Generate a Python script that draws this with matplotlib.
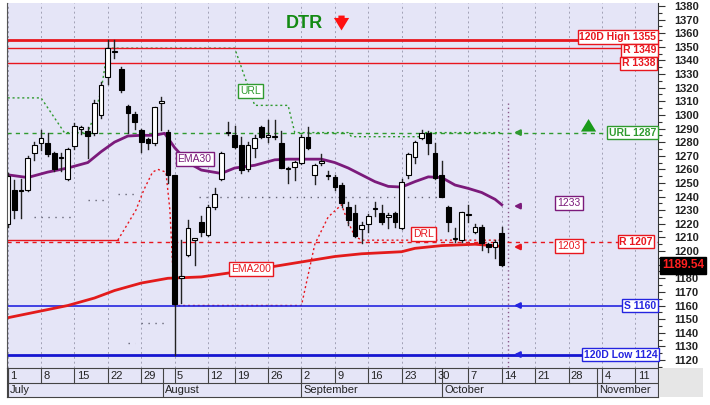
import numpy as np
import matplotlib
matplotlib.use("Agg")
import matplotlib.pyplot as plt
import matplotlib.transforms as mtransforms
from matplotlib.patches import Rectangle

plt.rcParams['font.family'] = ['Liberation Sans', 'DejaVu Sans']

# ---- daily candles, one per trading day starting 1 July ----
opens = [1220, 1245, 1244, 1245, 1272, 1279, 1279, 1272, 1268, 1253,
         1277, 1290, 1288, 1287, 1300, 1328, 1346, 1334, 1306.5, 1301,
         1289, 1282, 1279, 1309, 1287.5, 1256, 1180, 1197, 1208, 1221,
         1212, 1232, 1253, 1287, 1285, 1278, 1260, 1276, 1291, 1284,
         1284, 1279, 1260, 1262, 1265, 1284, 1256, 1265, 1255, 1254.5,
         1248.5, 1232.5, 1228, 1216, 1220, 1231, 1228, 1225, 1228, 1217,
         1256, 1269, 1283, 1287, 1272, 1256, 1232, 1209, 1208, 1226.5,
         1214, 1218, 1205, 1203, 1213]
highs = [1257, 1252, 1253, 1270, 1280, 1289, 1287, 1273, 1272, 1276,
         1294, 1292, 1291, 1311, 1324, 1355, 1355, 1335, 1307, 1302,
         1290, 1283, 1306, 1313, 1289, 1256, 1208, 1223, 1209, 1226,
         1234, 1246, 1273, 1295, 1292, 1284, 1280, 1285, 1292, 1296,
         1296, 1288, 1262, 1266, 1285, 1291, 1264, 1271, 1259, 1256,
         1250, 1236, 1234, 1221, 1227, 1236, 1234, 1228, 1229, 1253,
         1272, 1281, 1289, 1288, 1279, 1266, 1233, 1217, 1229, 1234,
         1220, 1219, 1206, 1208, 1218]
lows = [1218, 1224, 1224, 1244, 1267, 1274, 1270, 1259, 1259, 1252,
        1275, 1286, 1268, 1285, 1298, 1323, 1342, 1317, 1287, 1290,
        1273, 1275, 1278, 1289, 1250, 1124, 1162, 1196, 1190, 1211,
        1211, 1231, 1252, 1285, 1276, 1257, 1259, 1269, 1283, 1280,
        1282, 1261, 1250, 1252, 1264, 1275, 1249, 1263, 1253, 1245,
        1232, 1219, 1210, 1206, 1214, 1226, 1220, 1217, 1218, 1216,
        1254, 1265, 1282, 1271, 1253, 1240, 1215, 1207, 1207, 1221,
        1213, 1201, 1199, 1195, 1189]
closes = [1255, 1230, 1244.5, 1268, 1278, 1283, 1271, 1260, 1268.5, 1275,
          1292, 1290.5, 1284.5, 1309, 1322, 1349, 1346.5, 1318, 1301.5, 1295,
          1280, 1279, 1305.5, 1310, 1256, 1161, 1182, 1217, 1209.5, 1214,
          1232, 1242, 1272, 1287.5, 1276.5, 1259.5, 1278, 1283, 1284, 1285,
          1284.5, 1261, 1260.5, 1265.5, 1284, 1276, 1263, 1265.5, 1255.5, 1247,
          1235, 1223, 1211, 1219, 1226, 1231.5, 1221.5, 1226.5, 1221, 1251,
          1271, 1280, 1287, 1279, 1254, 1240, 1221, 1209.5, 1229, 1227,
          1218, 1206, 1203, 1207, 1189.54]

# ---- indicator lines (day index, value) ----
ema30_idx = [0, 3, 6, 9, 12, 14, 16, 18, 20, 22, 23.5, 25, 27, 29, 32, 34, 37,
             40, 42, 47, 49, 51, 53, 55, 57, 59, 61, 63, 65, 67, 69, 71, 73, 74]
ema30_val = [1256, 1254, 1258, 1261, 1265, 1273, 1280, 1284.5, 1285, 1285,
             1286.5, 1276, 1265, 1259.5, 1257, 1261, 1263, 1267, 1267.5, 1267.5,
             1265, 1261, 1256, 1251, 1247.5, 1247, 1251, 1254.5, 1254, 1248.5,
             1246, 1243, 1238, 1234]
ema200_idx = [0, 4, 9, 13, 16, 20, 24, 29, 34, 39, 44, 49, 53, 59, 61, 65, 70, 74]
ema200_val = [1151, 1155, 1160, 1165.5, 1171, 1176.5, 1180, 1181, 1184.5,
              1188, 1192, 1196, 1198, 1199.5, 1202, 1204, 1205, 1203.5]
url_idx = [0, 5, 8.5, 12, 13, 14, 15, 34, 37, 42, 43, 51, 51.5, 62, 62.5, 74]
url_val = [1312.5, 1312.5, 1287, 1287, 1300, 1318, 1349, 1349, 1307, 1307,
           1287, 1287, 1284, 1284, 1287, 1287]
drl_idx = [16.5, 19.2, 20.4, 21.7, 22.5, 23.7, 24.3, 25, 44, 46, 48, 50, 51,
           52, 53, 74]
drl_val = [1208, 1230, 1245, 1258, 1260, 1258, 1230, 1160, 1160, 1205, 1225,
           1234, 1221, 1211, 1208, 1208]
# short grey dotted step levels
band_start = [4, 12, 16.5, 18, 20, 28.6]
band_end = [10, 14.5, 19.5, 19, 24, 65]
band_val = [1225, 1237.5, 1242, 1132.5, 1147, 1240]

# ---- horizontal levels ----
level_val = [1355, 1349, 1338, 1287, 1207, 1160, 1124]
level_text = ['120D High 1355', 'R 1349', 'R 1338', 'URL 1287', 'R 1207',
              'S 1160', '120D Low 1124']
end_val = [1287, 1233, 1203, 1160, 1124]   # arrows at the end marker
last_close = 1189.54

# ---- date axis ----
week_pos = [0, 5, 10, 15, 20, 25, 30, 34, 39, 44, 49, 54, 59, 64, 69, 74,
            79, 84, 89, 94]
week_labels = ['1', '8', '15', '22', '29', '5', '12', '19', '26', '2', '9',
               '16', '23', '30', '7', '14', '21', '28', '4', '11']
month_pos = [0, 23.2, 44, 65.1, 88.3]
month_names = ['July', 'August', 'September', 'October', 'November']

RED = '#e8161e'
GREEN = '#2f9a2f'
BLUE = '#2424e0'
PURPLE = '#7b1a7b'
BG = '#e5e5f7'

fig = plt.figure(figsize=(7.1, 4.05), dpi=100)
fig.patch.set_facecolor('white')
ax = fig.add_axes([7 / 710, 1 - 368 / 405, 651 / 710, 365 / 405])
ax.set_facecolor(BG)
ax.set_xlim(-0.1, 97.4)
ax.set_ylim(1114.1, 1382.2)

# vertical week grid
for p in week_pos:
    ax.axvline(p, color='#a0a0b4', lw=0.7, ls=(0, (2, 3)), zorder=0.5)

# grey dotted steps
for s, e, v in zip(band_start, band_end, band_val):
    ax.plot([s, e], [v, v], color='#666677', lw=1, ls=(0, (1, 4)), zorder=1)

ax.plot(url_idx, url_val, color=GREEN, lw=1, ls=(0, (1.5, 2)), zorder=1.1)
ax.plot(drl_idx, drl_val, color=RED, lw=1, ls=(0, (1.5, 2)), zorder=1.1)

# levels
ax.axhline(level_val[0], color=RED, lw=2, zorder=1.3)
ax.axhline(level_val[1], color=RED, lw=1, zorder=1.3)
ax.axhline(level_val[2], color=RED, lw=1, zorder=1.3)
ax.axhline(level_val[3], color=GREEN, lw=1, ls=(0, (3, 3)), zorder=1.3)
ax.axhline(level_val[4], color=RED, lw=1, ls=(0, (3, 3)), zorder=1.3)
ax.axhline(level_val[5], color=BLUE, lw=1.2, zorder=1.3)
ax.axhline(level_val[6], color='#1515d0', lw=2, zorder=1.3)
ax.plot([ax.get_xlim()[0], drl_idx[0]], [drl_val[0]] * 2, color=RED, lw=1, zorder=1.3)

ax.plot(ema200_idx, ema200_val, color='#e31b1b', lw=2, zorder=1.5)
ax.plot(ema30_idx, ema30_val, color=PURPLE, lw=2, zorder=1.5)

# candles
w = 0.7
for i, (o, h, l, c) in enumerate(zip(opens, highs, lows, closes)):
    ax.plot([i, i], [l, h], color='#222222', lw=1, zorder=2)
    lo, hi = min(o, c), max(o, c)
    if hi - lo < 0.8:
        hi = lo + 0.8
    fc = 'white' if c >= o else 'black'
    ax.add_patch(Rectangle((i - w / 2, lo), w, hi - lo, facecolor=fc,
                           edgecolor='black', lw=0.8, zorder=2.2))

# end marker
end_x = len(closes)
ax.plot([end_x, end_x], [1309, ax.get_ylim()[0]], color='#8a5a8a', lw=1,
        ls=(0, (1, 2)), zorder=1.2)
end_cols = [GREEN, PURPLE, RED, BLUE, BLUE]
for v, col in zip(end_val, end_cols):
    ax.annotate('', xy=(end_x + 0.4, v), xytext=(end_x + 2.3, v),
                arrowprops=dict(arrowstyle='-|>', color=col, lw=1.6,
                                mutation_scale=8), zorder=3)

# level labels (boxes nudged so neighbouring tags do not collide)
lab_cols = [RED, RED, RED, GREEN, RED, BLUE, BLUE]
lab_nudge = [2.2, -1.6, 0, 0, 0, 0, 0]
lab_right = [97.1, 97.1, 97.0, 97.1, 96.6, 97.1, 97.3]
for v, t, col, dy, xr in zip(level_val, level_text, lab_cols, lab_nudge, lab_right):
    ax.text(xr, v + dy, t, ha='right', va='center', fontsize=7.5,
            fontweight='bold', color=col, zorder=4,
            bbox=dict(boxstyle='square,pad=0.15', fc='white', ec=col, lw=1))

def tag(x, y, s, col):
    ax.text(x, y, s, ha='center', va='center', fontsize=7.5, color=col,
            zorder=4, bbox=dict(boxstyle='square,pad=0.2', fc='white',
                                ec=col, lw=1))

tag(28, 1267.6, 'EMA30', PURPLE)
tag(36.4, 1187, 'EMA200', RED)
tag(62.3, 1212.5, 'DRL', RED)
tag(36.4, 1317.6, 'URL', GREEN)
tag(84.1, 1235, '1233', PURPLE)
tag(84.1, 1204, '1203', RED)

# signal text and arrows
ax.text(44.5, 1367, 'DTR', ha='center', va='center', fontsize=13,
        fontweight='bold', color='#138a13', zorder=4)
ax.annotate('', xy=(50, 1360), xytext=(50, 1375),
            arrowprops=dict(arrowstyle='simple,head_width=1.1,head_length=0.9,tail_width=0.45',
                            color='#ff1010', lw=0), zorder=4)
ax.annotate('', xy=(87, 1299), xytext=(87, 1287),
            arrowprops=dict(arrowstyle='simple,head_width=1.1,head_length=0.9,tail_width=0.45',
                            color='#1a9a1a', lw=0), zorder=4)

# right price axis
yt = np.arange(1120, 1381, 10)
ax.yaxis.tick_right()
ax.set_yticks(yt)
ax.set_yticklabels(['' if v == 1190 else str(v) for v in yt])
ax.set_yticks(np.arange(1115, 1381, 10), minor=True)
ax.tick_params(axis='y', which='major', length=5, width=0.8, colors='#333333',
               labelsize=8, pad=7)
ax.tick_params(axis='y', which='minor', length=3, width=0.8, colors='#333333')
for lab in ax.get_yticklabels():
    lab.set_fontweight('bold')
    lab.set_color('#222222')
ax.set_xticks([])
for s in ['top', 'bottom']:
    ax.spines[s].set_visible(False)
ax.spines['left'].set_color('#555555')
ax.spines['left'].set_linewidth(0.8)
ax.spines['right'].set_color('#333333')
ax.spines['right'].set_linewidth(0.8)

trans = mtransforms.blended_transform_factory(ax.transAxes, ax.transData)
ax.text(1.006, last_close, f'{last_close:.2f}', transform=trans, ha='left',
        va='center', fontsize=8.5, fontweight='bold', color='#ff2020',
        zorder=5, clip_on=False,
        bbox=dict(boxstyle='square,pad=0.2', fc='black', ec='black'))

# date band
dx = fig.add_axes([7 / 710, 1 - 397 / 405, 651 / 710, 29 / 405])
dx.set_facecolor(BG)
dx.set_xlim(ax.get_xlim())
dx.set_ylim(0, 2)
dx.set_xticks([])
dx.set_yticks([])
for s in dx.spines.values():
    s.set_color('#444444')
    s.set_linewidth(0.8)
dx.axhline(1, color='#444444', lw=0.8)
for p, t in zip(week_pos, week_labels):
    dx.plot([p, p], [1, 2], color='#444444', lw=0.8)
    dx.text(p + 0.35, 1.48, t, ha='left', va='center', fontsize=8, color='#222222')
for p, t in zip(month_pos, month_names):
    dx.plot([p, p], [0, 2], color='#444444', lw=0.8)
    dx.text(p + 0.3, 0.45, t, ha='left', va='center', fontsize=8, color='#222222')

fig.patches.append(Rectangle((659 / 710, 1 - 397 / 405), 44 / 710, 29 / 405,
                             transform=fig.transFigure, fc='#e6e6e6', ec='none'))

fig.savefig('out.png', dpi=100)
